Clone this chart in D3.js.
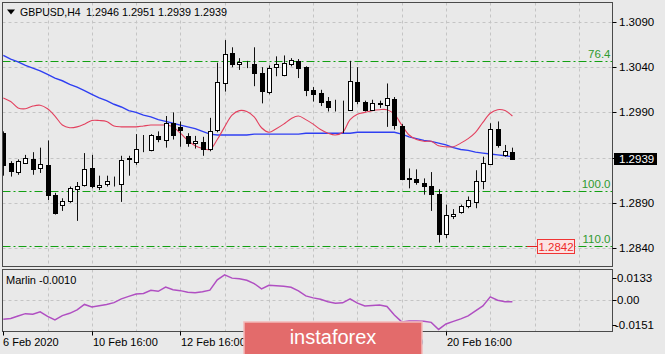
<!DOCTYPE html>
<html>
<head>
<meta charset="utf-8">
<script src="https://cdn.jsdelivr.net/npm/d3@7"></script>
<style>
    html, body { margin: 0; padding: 0; background: #e9e9e9; }
    svg { display: block; font-family: "Liberation Sans", Arial, sans-serif; }
</style>
</head>
<body>
<div id="chartdiv"></div>
<script>
// chart data: GBPUSD, H4 candles (bar 0 = 6 Feb 16:00)
let opens = [1.2967, 1.2934, 1.2924, 1.2934, 1.2939, 1.2928, 1.2932, 1.2899, 1.2888, 1.2892,
    1.2905, 1.2910, 1.2929, 1.2907, 1.2911, 1.2913, 1.2911, 1.2938, 1.2935, 1.2949,
    1.2948, 1.2964, 1.2960, 1.2978, 1.2974, 1.2964, 1.2956, 1.2957, 1.2950, 1.2970,
    1.3022, 1.3056, 1.3043, 1.3044, 1.3043, 1.3034, 1.3013, 1.3040, 1.3031, 1.3043,
    1.3047, 1.3040, 1.3015, 1.3012, 1.3003, 1.2996, 1.2995, 1.2993, 1.3024, 1.3002,
    1.2993, 1.3000, 1.2998, 1.3005, 1.2975, 1.2917, 1.2916, 1.2912, 1.2909, 1.2900,
    1.2856, 1.2875, 1.2880, 1.2886, 1.2891, 1.2914, 1.2933, 1.2972, 1.2943, 1.2946];
let highs = [1.2969, 1.2936, 1.2938, 1.2943, 1.2946, 1.2951, 1.2959, 1.2901, 1.2895, 1.2908,
    1.2913, 1.2945, 1.2943, 1.2920, 1.2920, 1.2919, 1.2942, 1.2942, 1.2966, 1.2965,
    1.2966, 1.2969, 1.2986, 1.2990, 1.2980, 1.2967, 1.2964, 1.2963, 1.2984, 1.3045,
    1.3070, 1.3062, 1.3050, 1.3047, 1.3062, 1.3040, 1.3042, 1.3052, 1.3053, 1.3050,
    1.3049, 1.3041, 1.3018, 1.3015, 1.3007, 1.3004, 1.3003, 1.3047, 1.3040, 1.3003,
    1.3004, 1.3003, 1.3022, 1.3007, 1.2977, 1.2928, 1.2927, 1.2917, 1.2924, 1.2905,
    1.2888, 1.2883, 1.2888, 1.2897, 1.2926, 1.2941, 1.2978, 1.2980, 1.2954, 1.2951];
let lows = [1.2920, 1.2919, 1.2921, 1.2933, 1.2921, 1.2923, 1.2893, 1.2877, 1.2881, 1.2890,
    1.2870, 1.2908, 1.2906, 1.2904, 1.2908, 1.2908, 1.2891, 1.2920, 1.2932, 1.2946,
    1.2947, 1.2957, 1.2951, 1.2960, 1.2952, 1.2952, 1.2950, 1.2942, 1.2947, 1.2968,
    1.3013, 1.3040, 1.3037, 1.3039, 1.3019, 1.3000, 1.3010, 1.3030, 1.3030, 1.3041,
    1.3028, 1.3008, 1.3002, 1.2997, 1.2991, 1.2991, 1.2967, 1.29925, 1.2999, 1.2991,
    1.2992, 1.2995, 1.2974, 1.2971, 1.2915, 1.2906, 1.2910, 1.2899, 1.2881, 1.2846,
    1.2851, 1.2872, 1.2878, 1.2884, 1.2884, 1.2905, 1.2932, 1.2951, 1.2941, 1.2939];
let closes = [1.2932, 1.2925, 1.2936, 1.2940, 1.2927, 1.2933, 1.2899, 1.2879, 1.2892, 1.2906,
    1.2909, 1.2927, 1.2909, 1.2910, 1.2914, 1.29125, 1.2937, 1.2940, 1.2950, 1.2950,
    1.2965, 1.2961, 1.2978, 1.2965, 1.2971, 1.2956, 1.2958, 1.2949, 1.2969, 1.3024,
    1.3055, 1.3044, 1.3046, 1.30435, 1.3034, 1.3014, 1.3039, 1.3044, 1.3045, 1.3048,
    1.3039, 1.3015, 1.3010, 1.3001, 1.2996, 1.29955, 1.29945, 1.3025, 1.3003, 1.2993,
    1.3000, 1.29995, 1.3006, 1.2976, 1.2916, 1.29165, 1.2913, 1.2909, 1.2900, 1.2856,
    1.2877, 1.2878, 1.2886, 1.2893, 1.2914, 1.2934, 1.2972, 1.2954, 1.2947, 1.2939];

// indicator lines
let redLine = [1.3006, 1.3002, 1.2995, 1.2994, 1.2997, 1.2998, 1.2994, 1.2986, 1.2976, 1.2973,
    1.2974, 1.2977, 1.2981, 1.2981, 1.2980, 1.2975, 1.2974, 1.2974, 1.2974, 1.2975,
    1.2976, 1.2976, 1.2976, 1.2974, 1.2967, 1.2959, 1.2953, 1.2950, 1.2949, 1.2960,
    1.2974, 1.2987, 1.2992, 1.2991, 1.2985, 1.2973, 1.2968, 1.2972, 1.2977, 1.2983,
    1.2986, 1.2982, 1.2977, 1.2971, 1.2967, 1.2965, 1.2968, 1.2982, 1.2988, 1.2990,
    1.2992, 1.2993, 1.2993, 1.2988, 1.2976, 1.2965, 1.2960, 1.2958, 1.2958, 1.2953,
    1.2952, 1.2952, 1.2956, 1.2961, 1.2968, 1.2979, 1.2989, 1.2993, 1.2992, 1.2986];
let blueLine = [1.3053, 1.3049, 1.3046, 1.3042, 1.3039, 1.3036, 1.3032, 1.3028, 1.3025, 1.3021,
    1.3018, 1.3014, 1.3010, 1.3006, 1.3003, 1.2999, 1.2996, 1.2992, 1.2990, 1.2987,
    1.2985, 1.2982, 1.2980, 1.2978, 1.2976, 1.2974, 1.2972, 1.2969, 1.2966, 1.2965,
    1.2965, 1.2965, 1.2965, 1.2965, 1.2966, 1.2966, 1.2966, 1.2966, 1.2966, 1.2966,
    1.2966, 1.2967, 1.2967, 1.2967, 1.2967, 1.2967, 1.2967, 1.2967, 1.2968, 1.2968,
    1.2968, 1.2968, 1.2968, 1.2968, 1.2966, 1.2963, 1.2961, 1.2959, 1.2958, 1.2956,
    1.2954, 1.2951, 1.2949, 1.2948, 1.2946, 1.2945, 1.2944, 1.2943, 1.2942, 1.2941];
let marlin = [-0.0116, -0.0111, -0.0096, -0.0082, -0.0085, -0.0071, -0.0099, -0.0120, -0.0094, -0.0080,
    -0.0059, -0.0026, -0.0041, -0.0034, -0.0026, -0.0015, 0.0008, 0.0023, 0.0037, 0.0041,
    0.0060, 0.0054, 0.0080, 0.0063, 0.0058, 0.0048, 0.0045, 0.0051, 0.0061, 0.0124,
    0.0154, 0.0134, 0.0130, 0.0121, 0.0101, 0.0069, 0.0091, 0.0088, 0.0084, 0.0078,
    0.0057, 0.0026, 0.0014, 0.0005, -0.0010, -0.0018, -0.0016, 0.0008, -0.0018, -0.0035,
    -0.0032, -0.0029, -0.0038, -0.0090, -0.0132, -0.0127, -0.0126, -0.0128, -0.0135, -0.0178,
    -0.0145, -0.0129, -0.0114, -0.0096, -0.0065, -0.0035, 0.0020, 0.0000, -0.0009, -0.0010];

// axes and levels
let priceTicks = [1.3090, 1.3040, 1.2990, 1.2940, 1.2890, 1.2840];
let marlinTicks = [0.0133, 0.00, -0.0151];
let marlinTickLabels = ["0.0133", "0.00", "-0.0151"];
let timeLabels = ["6 Feb 2020", "10 Feb 16:00", "12 Feb 16:00", "14 Feb 16:00", "18 Feb 16:00", "20 Feb 16:00"];
let timeLabelBars = [0, 12, 24, 36, 48, 60];
let fiboNames = ["76.4", "100.0", "110.0"];
let fiboPrices = [1.3047, 1.2903, 1.2842];
let lastPrice = 1.2939,
    markPrice = 1.2842;

// draw
{
    let width = 665,
        height = 354,
        frame = { left: 2.5, right: 612.5, top: 2.5, bottom: 266.5 },
        sub = { top: 269.5, bottom: 331.5 },
        body_w = 5;

    let x = d3.scaleLinear()
        .domain([0, 82.5])
        .range([3.3, 612]);
    let y = d3.scaleLinear()
        .domain([1.2840, 1.3090])
        .range([248, 22]);
    let ym = d3.scaleLinear()
        .domain([-0.0151, 0.0133])
        .range([325, 278.3]);

    let svg = d3.select("#chartdiv").append("svg")
        .attr("width", width)
        .attr("height", height);
    svg.append("rect")
        .attr("width", width)
        .attr("height", height)
        .attr("fill", "#e9e9e9");

    let defs = svg.append("defs");
    defs.append("clipPath").attr("id", "clipMain")
        .append("rect")
        .attr("x", frame.left).attr("y", frame.top)
        .attr("width", frame.right - frame.left).attr("height", frame.bottom - frame.top);
    defs.append("clipPath").attr("id", "clipSub")
        .append("rect")
        .attr("x", frame.left).attr("y", sub.top)
        .attr("width", frame.right - frame.left).attr("height", sub.bottom - sub.top);

    // grid
    let gridBars = d3.range(6, 83, 6);
    let grid = svg.append("g")
        .attr("stroke", "#c4c4c4")
        .attr("stroke-dasharray", "3,3")
        .attr("stroke-width", 1);
    grid.selectAll(".vg")
        .data(gridBars)
        .enter()
        .append("line")
        .attr("x1", function(d) { return Math.round(x(d)) + 0.5; })
        .attr("x2", function(d) { return Math.round(x(d)) + 0.5; })
        .attr("y1", frame.top)
        .attr("y2", frame.bottom);
    grid.selectAll(".vgs")
        .data(gridBars)
        .enter()
        .append("line")
        .attr("x1", function(d) { return Math.round(x(d)) + 0.5; })
        .attr("x2", function(d) { return Math.round(x(d)) + 0.5; })
        .attr("y1", sub.top)
        .attr("y2", sub.bottom);
    grid.selectAll(".hg")
        .data(priceTicks)
        .enter()
        .append("line")
        .attr("x1", frame.left)
        .attr("x2", frame.right)
        .attr("y1", function(d) { return Math.round(y(d)) + 0.5; })
        .attr("y2", function(d) { return Math.round(y(d)) + 0.5; });
    grid.append("line")
        .attr("x1", frame.left)
        .attr("x2", frame.right)
        .attr("y1", Math.round(ym(0)) + 0.5)
        .attr("y2", Math.round(ym(0)) + 0.5);

    // fibo levels
    let fibo = svg.append("g");
    fibo.selectAll("line")
        .data(fiboPrices)
        .enter()
        .append("line")
        .attr("x1", frame.left)
        .attr("x2", frame.right)
        .attr("y1", function(d) { return Math.round(y(d)) + 0.5; })
        .attr("y2", function(d) { return Math.round(y(d)) + 0.5; })
        .attr("stroke", "#12a012")
        .attr("stroke-dasharray", "8,3,2,3");
    fibo.selectAll("text")
        .data(fiboNames)
        .enter()
        .append("text")
        .attr("x", 610.5)
        .attr("y", function(d, i) { return Math.round(y(fiboPrices[i])) - 3; })
        .attr("text-anchor", "end")
        .attr("font-size", 11.5)
        .attr("fill", "#2f9a2f")
        .text(function(d) { return d; });

    // indicator lines on price chart
    let plot = svg.append("g").attr("clip-path", "url(#clipMain)");
    let redPath = d3.line()
        .x(function(d, i) { return x(i); })
        .y(function(d) { return y(d); })
        .curve(d3.curveCatmullRom);
    let bluePath = d3.line()
        .x(function(d, i) { return x(i); })
        .y(function(d) { return y(d); });
    plot.append("path")
        .attr("d", bluePath(blueLine))
        .attr("fill", "none")
        .attr("stroke", "#2f3ff2")
        .attr("stroke-width", 1.4);
    plot.append("path")
        .attr("d", redPath(redLine))
        .attr("fill", "none")
        .attr("stroke", "#e3405e")
        .attr("stroke-width", 1.1);

    // candles
    let candles = plot.selectAll(".candle")
        .data(opens)
        .enter()
        .append("g")
        .attr("class", "candle");
    candles.append("line")
        .attr("x1", function(d, i) { return Math.round(x(i)) + 0.5; })
        .attr("x2", function(d, i) { return Math.round(x(i)) + 0.5; })
        .attr("y1", function(d, i) { return y(highs[i]); })
        .attr("y2", function(d, i) { return y(lows[i]); })
        .attr("stroke", "#111")
        .attr("stroke-width", 1);
    candles.append("rect")
        .attr("x", function(d, i) { return Math.round(x(i)) - 2 + 0.5; })
        .attr("y", function(d, i) { return Math.round(y(Math.max(opens[i], closes[i]))) + 0.5; })
        .attr("width", body_w - 1)
        .attr("height", function(d, i) {
            return Math.max(0, Math.round(y(Math.min(opens[i], closes[i]))) - Math.round(y(Math.max(opens[i], closes[i]))));
        })
        .attr("fill", function(d, i) { return closes[i] >= opens[i] ? "#ffffff" : "#000000"; })
        .attr("stroke", "#000")
        .attr("stroke-width", 1);

    // marlin oscillator
    let marlinPath = d3.line()
        .x(function(d, i) { return x(i); })
        .y(function(d) { return ym(d); });
    svg.append("g").attr("clip-path", "url(#clipSub)")
        .append("path")
        .attr("d", marlinPath(marlin))
        .attr("fill", "none")
        .attr("stroke", "#b04fc2")
        .attr("stroke-width", 1.5);

    // frames
    svg.append("rect")
        .attr("x", frame.left).attr("y", frame.top)
        .attr("width", frame.right - frame.left).attr("height", frame.bottom - frame.top)
        .attr("fill", "none").attr("stroke", "#4a4a4a");
    svg.append("rect")
        .attr("x", frame.left).attr("y", sub.top)
        .attr("width", frame.right - frame.left).attr("height", sub.bottom - sub.top)
        .attr("fill", "none").attr("stroke", "#4a4a4a");

    // price axis
    let pax = svg.append("g");
    pax.selectAll("line")
        .data(priceTicks)
        .enter()
        .append("line")
        .attr("x1", frame.right).attr("x2", frame.right + 4)
        .attr("y1", function(d) { return Math.round(y(d)) + 0.5; })
        .attr("y2", function(d) { return Math.round(y(d)) + 0.5; })
        .attr("stroke", "#000");
    pax.selectAll("text")
        .data(priceTicks)
        .enter()
        .append("text")
        .attr("x", 619)
        .attr("y", function(d) { return y(d) + 4; })
        .attr("font-size", 11.5)
        .attr("fill", "#000")
        .text(function(d) { return d.toFixed(4); });

    // marlin axis
    let max = svg.append("g");
    max.selectAll("line")
        .data(marlinTicks)
        .enter()
        .append("line")
        .attr("x1", frame.right).attr("x2", frame.right + 4)
        .attr("y1", function(d) { return Math.round(ym(d)) + 0.5; })
        .attr("y2", function(d) { return Math.round(ym(d)) + 0.5; })
        .attr("stroke", "#000");
    max.selectAll("text")
        .data(marlinTicks)
        .enter()
        .append("text")
        .attr("x", function(d) { return d < 0 ? 615 : 617; })
        .attr("y", function(d) { return ym(d) + 4; })
        .attr("font-size", 11.5)
        .attr("fill", "#000")
        .text(function(d, i) { return marlinTickLabels[i]; });

    // time axis
    let tax = svg.append("g");
    tax.selectAll("line")
        .data(timeLabelBars)
        .enter()
        .append("line")
        .attr("x1", function(d) { return Math.round(x(d)) + 0.5; })
        .attr("x2", function(d) { return Math.round(x(d)) + 0.5; })
        .attr("y1", sub.bottom)
        .attr("y2", sub.bottom + 4)
        .attr("stroke", "#000");
    tax.selectAll("text")
        .data(timeLabels)
        .enter()
        .append("text")
        .attr("x", function(d, i) { return Math.round(x(timeLabelBars[i])) + (i == 0 ? 0 : 1); })
        .attr("y", 345.5)
        .attr("font-size", 11)
        .attr("fill", "#000")
        .text(function(d) { return d; });

    // last price tag
    svg.append("rect")
        .attr("x", 614).attr("y", Math.round(y(lastPrice)) - 6)
        .attr("width", 43).attr("height", 12)
        .attr("fill", "#000");
    svg.append("text")
        .attr("x", 619).attr("y", y(lastPrice) + 4)
        .attr("font-size", 11.5)
        .attr("fill", "#fff")
        .text(lastPrice.toFixed(4));

    // price label object
    let my = Math.round(y(markPrice)) + 0.5;
    svg.append("line")
        .attr("x1", 527).attr("x2", 537)
        .attr("y1", my).attr("y2", my)
        .attr("stroke", "#e02020");
    svg.append("rect")
        .attr("x", 537.5).attr("y", my - 7)
        .attr("width", 37).attr("height", 14)
        .attr("fill", "#fbe3e3")
        .attr("stroke", "#f03434");
    svg.append("text")
        .attr("x", 556).attr("y", my + 4)
        .attr("text-anchor", "middle")
        .attr("font-size", 11.5)
        .attr("fill", "#ee2a2a")
        .text(markPrice.toFixed(4));

    // header
    svg.append("path")
        .attr("d", "M7,9.5 L15,9.5 L11,14.5 Z")
        .attr("fill", "#000");
    svg.append("text")
        .attr("x", 20).attr("y", 16)
        .attr("font-size", 10.5)
        .attr("fill", "#000")
        .text("GBPUSD,H4");
    svg.append("text")
        .attr("x", 86).attr("y", 16)
        .attr("font-size", 10.8)
        .attr("fill", "#000")
        .text([opens[69], highs[69], lows[69], closes[69]].map(function(v) { return v.toFixed(4); }).join(" "));
    svg.append("text")
        .attr("x", 6).attr("y", 284)
        .attr("font-size", 11)
        .attr("fill", "#000")
        .text("Marlin " + marlin[marlin.length - 1].toFixed(4));

    // watermark
    svg.append("rect")
        .attr("x", 244).attr("y", 322)
        .attr("width", 178).attr("height", 40)
        .attr("fill", "#e36b6b")
        .attr("stroke", "#f3b9b9")
        .attr("stroke-width", 1.5);
    svg.append("text")
        .attr("x", 333).attr("y", 344)
        .attr("text-anchor", "middle")
        .attr("font-size", 20)
        .attr("fill", "#ffffff")
        .text("instaforex");
}
</script>
</body>
</html>
